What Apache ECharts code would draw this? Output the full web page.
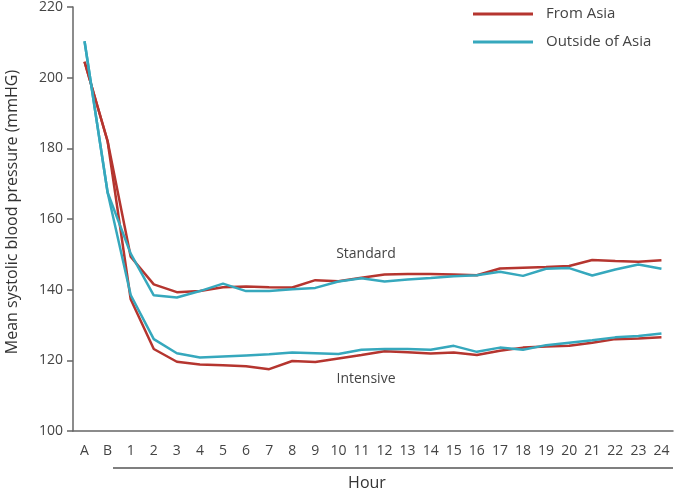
<!DOCTYPE html>
<html><head><meta charset="utf-8">
<script src="https://cdn.jsdelivr.net/npm/echarts@6/dist/echarts.min.js"></script>
<style>html,body{margin:0;padding:0;background:#fff}#c{width:675px;height:491px}</style>
</head><body><div id="c"></div>
<script>
const categories = ['A','B','1','2','3','4','5','6','7','8','9','10','11','12','13','14','15','16','17','18','19','20','21','22','23','24'];
const asiaStandard = [204.5,182,149.3,141.5,139.3,139.6,140.7,140.9,140.7,140.6,142.7,142.4,143.4,144.3,144.4,144.4,144.3,144.1,146.0,146.2,146.4,146.7,148.4,148.1,147.9,148.3];
const asiaIntensive = [204.5,182,137.3,123.2,119.6,118.8,118.6,118.3,117.5,119.8,119.5,120.5,121.5,122.6,122.3,121.9,122.2,121.5,122.7,123.6,123.9,124.1,125.0,126.0,126.2,126.5];
const outsideStandard = [210.3,167.5,150.2,138.4,137.8,139.6,141.7,139.6,139.6,140.1,140.5,142.3,143.2,142.3,142.9,143.3,143.8,144.1,145.1,143.9,145.9,146.1,144.0,145.7,147.1,145.9];
const outsideIntensive = [210.3,167.5,138.5,126.0,122.0,120.8,121.1,121.4,121.7,122.2,122.0,121.8,123.0,123.2,123.2,123.0,124.1,122.4,123.6,123.0,124.3,125.0,125.7,126.5,126.9,127.6];
const seriesNames = ['From Asia','Outside of Asia'];
const yTicks = {min:100,max:220,interval:20};

const RED = '#b5352f', TEAL = '#36a8bd';
const FONT = '"Open Sans", sans-serif';
function line(name, data, color){
  return {name, type:'line', data, symbol:'none', smooth:false,
    lineStyle:{color, width:2.5}, itemStyle:{color}, emphasis:{disabled:true}};
}
const chart = echarts.init(document.getElementById('c'), null, {renderer:'canvas'});
chart.setOption({
  animation:false,
  textStyle:{fontFamily:FONT},
  grid:{left:73,right:2,top:7,bottom:60, outerBoundsMode:'none', containLabel:false},
  legend:{orient:'vertical', left:473, top:4, padding:0, itemWidth:60, itemHeight:14, itemGap:8,
    data:seriesNames.map((n,i)=>({name:n, icon:'path://M0,0 L60,0 L60,3 L0,3 Z', itemStyle:{color:i?TEAL:RED}})),
    textStyle:{fontFamily:FONT, fontSize:15, lineHeight:20, color:'#444', padding:[0,0,0,8]}},
  xAxis:{type:'category', data:categories, boundaryGap:true,
    axisLine:{lineStyle:{color:'#666', width:1.5}},
    axisTick:{alignWithLabel:true, length:5, lineStyle:{color:'#666', width:1.5}},
    axisLabel:{color:'#444', fontSize:14, fontFamily:FONT, margin:13, interval:0}},
  yAxis:{type:'value', min:yTicks.min, max:yTicks.max, interval:yTicks.interval,
    axisLine:{show:true, lineStyle:{color:'#666', width:1.5}},
    axisTick:{show:true, length:6, lineStyle:{color:'#666', width:1.5}},
    splitLine:{show:false},
    axisLabel:{color:'#444', fontSize:14, fontFamily:FONT, margin:10}},
  series:[
    line(seriesNames[0], asiaStandard, RED),
    line(seriesNames[0], asiaIntensive, RED),
    line(seriesNames[1], outsideStandard, TEAL),
    line(seriesNames[1], outsideIntensive, TEAL)
  ],
  graphic:[
    {type:'text', x:12, y:212, rotation:Math.PI/2, style:{text:'Mean systolic blood pressure (mmHG)', font:'16px "Open Sans"', fill:'#333', align:'center', verticalAlign:'middle'}},
    {type:'line', shape:{x1:113,y1:468,x2:673,y2:468}, style:{stroke:'#555', lineWidth:1.5}},
    {type:'text', x:367, y:483, style:{text:'Hour', font:'16px "Open Sans"', fill:'#333', align:'center', verticalAlign:'middle'}},
    {type:'text', x:366, y:254, style:{text:'Standard', font:'14px "Open Sans"', fill:'#444', align:'center', verticalAlign:'middle'}},
    {type:'text', x:366, y:379, style:{text:'Intensive', font:'14px "Open Sans"', fill:'#444', align:'center', verticalAlign:'middle'}}
  ]
});
</script></body></html>
